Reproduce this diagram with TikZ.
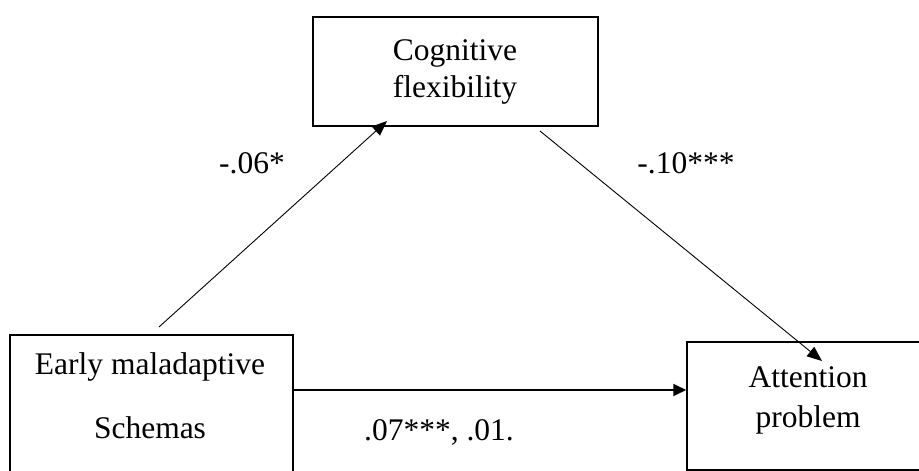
\documentclass[tikz,border=0pt]{standalone}
\usepackage{fontspec}
\setmainfont{Liberation Serif}
\usetikzlibrary{arrows.meta}
\tikzset{
  box/.style={draw, line width=1.5pt, rectangle, inner sep=0pt},
  lbl/.style={anchor=base, inner sep=0pt, font=\fontsize{31.5}{38}\selectfont},
  thinarrow/.style={line width=0.9pt, -{Triangle[length=15pt,width=12pt]}},
  thickarrow/.style={line width=1.8pt, -{Triangle[length=13pt,width=12pt]}}
}
\begin{document}
\begin{tikzpicture}[x=1pt,y=-1pt]
\useasboundingbox (0,0) rectangle (919,471);
\clip (0,0) rectangle (919,471);
% boxes
\node[box, minimum width=285pt, minimum height=109pt] (cf) at (455.5,71.5) {};
\node[box, minimum width=283pt, minimum height=165pt] (ems) at (151.5,417.5) {};
\node[box, minimum width=263pt, minimum height=128pt] (att) at (818.5,406) {};
% box texts
\node[lbl] (cf1) at (455,60) {Cognitive};
\node[lbl] (cf2) at (455,97) {flexibility};
\node[lbl] (ems1) at (150,374) {Early maladaptive};
\node[lbl] (ems2) at (150,438) {Schemas};
\node[lbl] (att1) at (808,387) {Attention};
\node[lbl] (att2) at (808,427) {problem};
% coefficient labels
\node[lbl] (la) at (252,173) {-.06*};
\node[lbl] (lb) at (686,173) {-.10***};
\node[lbl] (lc) at (439,440) {.07***, .01.};
% connectors
\coordinate (s1) at (159,327);
\coordinate (t1) at (387,121);
\coordinate (s2) at (540,131);
\coordinate (t2) at (822,361);
\coordinate (hy) at (0,390);
\draw[thinarrow] (s1) -- (t1);
\draw[thinarrow] (s2) -- (t2);
\draw[thickarrow] (ems.east |- hy) -- (att.west |- hy);
\end{tikzpicture}
\end{document}
